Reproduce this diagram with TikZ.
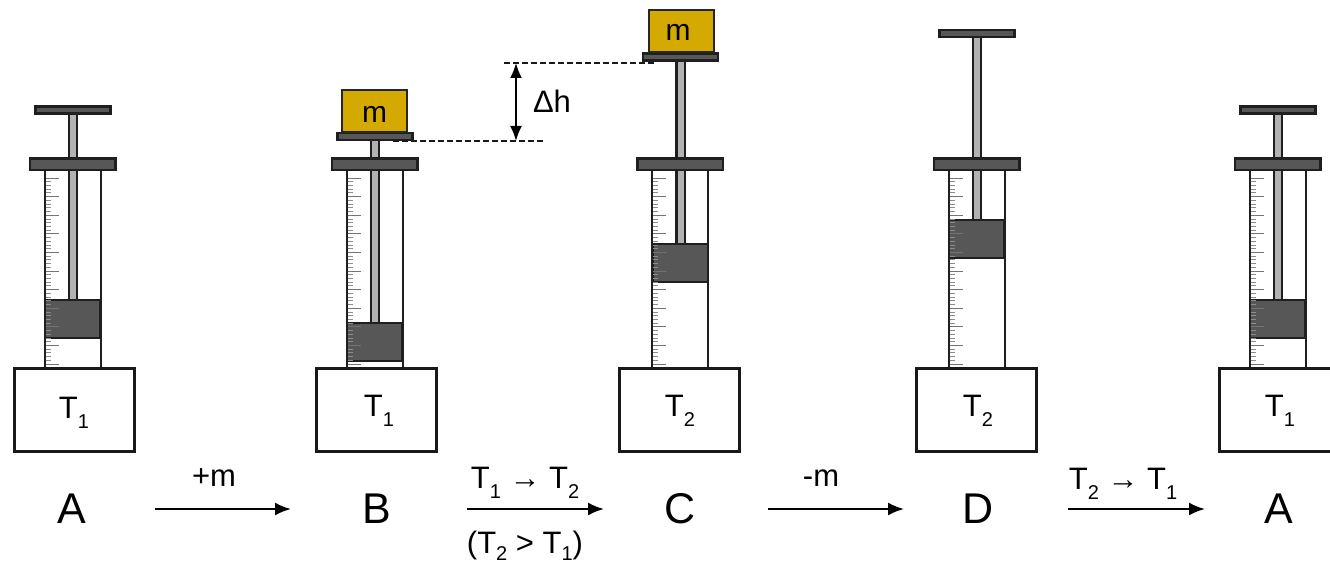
\documentclass[tikz,border=0pt]{standalone}
\usepackage{fontspec}
\setmainfont{Liberation Sans}
\usetikzlibrary{arrows.meta}
\newcommand{\sbs}[1]{\raisebox{-0.34em}{\fontsize{20}{20}\selectfont #1}}
\newcommand{\sbt}[1]{\raisebox{-0.22em}{\fontsize{20}{20}\selectfont #1}}
\tikzset{
  x=1pt,y=-1pt,
  outline/.style={draw=black!88,line width=2.5pt},
  darkpart/.style={outline,fill=black!66},
  rodpart/.style={outline,line width=2.4pt,fill=black!30},
  barrel/.style={draw=black!88,line width=2pt,fill=none},
  basebox/.style={draw=black!90,line width=3pt,fill=white},
  massbox/.style={draw=black!85,line width=2pt,fill=massgold},
  temp/.style={font=\fontsize{31}{31}\selectfont,inner sep=0pt},
  masstext/.style={font=\fontsize{30}{30}\selectfont,inner sep=0pt},
  state/.style={font=\fontsize{43}{43}\selectfont,inner sep=0pt},
  steplabel/.style={font=\fontsize{31}{31}\selectfont,inner sep=0pt},
  process/.style={draw=black,line width=2.2pt,-{Latex[length=16pt,width=13pt]}},
  level/.style={draw=black!90,line width=1.4pt,dash pattern=on 6pt off 3pt},
  height/.style={draw=black,line width=1.8pt,{Latex[length=15pt,width=12pt]}-{Latex[length=15pt,width=12pt]}},
}
\definecolor{massgold}{RGB}{212,170,0}
% #1 name, #2 centre x, #3 handle top, #4 piston top, #5 base centre x
\newcommand{\syringe}[5]{
  \pgfmathsetmacro{\cx}{#2}
  \pgfmathsetmacro{\ptop}{#4}
  \pgfmathsetmacro{\pbot}{#4+38}
  \pgfmathsetmacro{\hbot}{#3+7}
  % rod
  \draw[rodpart] (\cx-3.7,\hbot) rectangle (\cx+4.7,\ptop);
  % handle
  \draw[darkpart,line width=2.2pt] (\cx-37,#3) rectangle (\cx+38,\hbot);
  % flange
  \draw[darkpart] (\cx-42.5,158.5) rectangle (\cx+43,170);
  % piston
  \draw[darkpart] (\cx-27.5,\ptop) rectangle (\cx+28,\pbot);
  % barrel
  \draw[barrel] (\cx-28,170) -- (\cx-28,368) (\cx+28,170) -- (\cx+28,368);
  % scale
  \foreach \k in {0,...,10}{
    \pgfmathsetmacro{\ty}{178+18.6*\k}
    \draw[black!55,line width=0.9pt] (\cx-27,\ty) -- (\cx-14,\ty);
    \ifnum\k<10
      \foreach \j in {1,2,3,4}{
        \pgfmathsetmacro{\tz}{\ty+3.72*\j}
        \draw[black!45,line width=0.8pt] (\cx-27,\tz) -- (\cx-22,\tz);
      }
    \fi
  }
  % base
  \node[basebox,minimum width=120pt,minimum height=83pt,inner sep=0pt] (#1base) at (#5,410) {};
}
\begin{document}
\begin{tikzpicture}
\useasboundingbox (0,0) rectangle (1330,567);
\syringe{a}{72.5}{106.5}{300}{74}
\syringe{b}{374.5}{133}{323}{376.5}
\syringe{c}{680}{53.5}{244}{679}
\syringe{d}{976.5}{30}{220}{976}
\syringe{e}{1277.5}{106.5}{300}{1279}
% masses
\node[massbox,minimum width=65pt,minimum height=42pt,inner sep=0pt] (mb) at (374.5,111.5) {};
\node[massbox,minimum width=65pt,minimum height=42pt,inner sep=0pt] (mc) at (681,31.5) {};
\node[masstext] at (374.5,114) {m};
\node[masstext] at (678,32) {m};
% temperatures
\node[temp] (ta) at (74,413) {T\sbs{1}};
\node[temp] (tb) at (379,411) {T\sbs{1}};
\node[temp] (tc) at (680,411) {T\sbs{2}};
\node[temp] (td) at (978,411) {T\sbs{2}};
\node[temp] (te) at (1280,411) {T\sbs{1}};
% states
\node[state] (A) at (72,509) {A};
\node[state] (B) at (377,509) {B};
\node[state] (C) at (680,509) {C};
\node[state] (D) at (978,509) {D};
\node[state] (A2) at (1279,509) {A};
% process arrows
\coordinate (s1) at (155,509); \coordinate (e1) at (291,509);
\coordinate (s2) at (467,509); \coordinate (e2) at (604,509);
\coordinate (s3) at (768,509); \coordinate (e3) at (904,509);
\coordinate (s4) at (1068,509); \coordinate (e4) at (1205,509);
\draw[process] (s1) -- (e1);
\draw[process] (s2) -- (e2);
\draw[process] (s3) -- (e3);
\draw[process] (s4) -- (e4);
\node[steplabel] (l1) at (214,478) {+m};
\node[steplabel] (l2) at (525,483) {T\sbs{1} → T\sbs{2}};
\node[steplabel] (l2b) at (525,546) {(T\sbt{2} > T\sbt{1})};
\node[steplabel] (l3) at (821,478) {-m};
\node[steplabel] (l4) at (1123,484) {T\sbs{2} → T\sbs{1}};
% height difference
\coordinate (h1l) at (393,141); \coordinate (h1r) at (543,141);
\coordinate (h2l) at (504,63); \coordinate (h2r) at (654,63);
\coordinate (hu) at (516,63); \coordinate (hd) at (516,141);
\draw[level] (h1l) -- (h1r);
\draw[level] (h2l) -- (h2r);
\draw[height] (hu) -- (hd);
\node[steplabel] (dh) at (552,101) {Δh};
\end{tikzpicture}
\end{document}
